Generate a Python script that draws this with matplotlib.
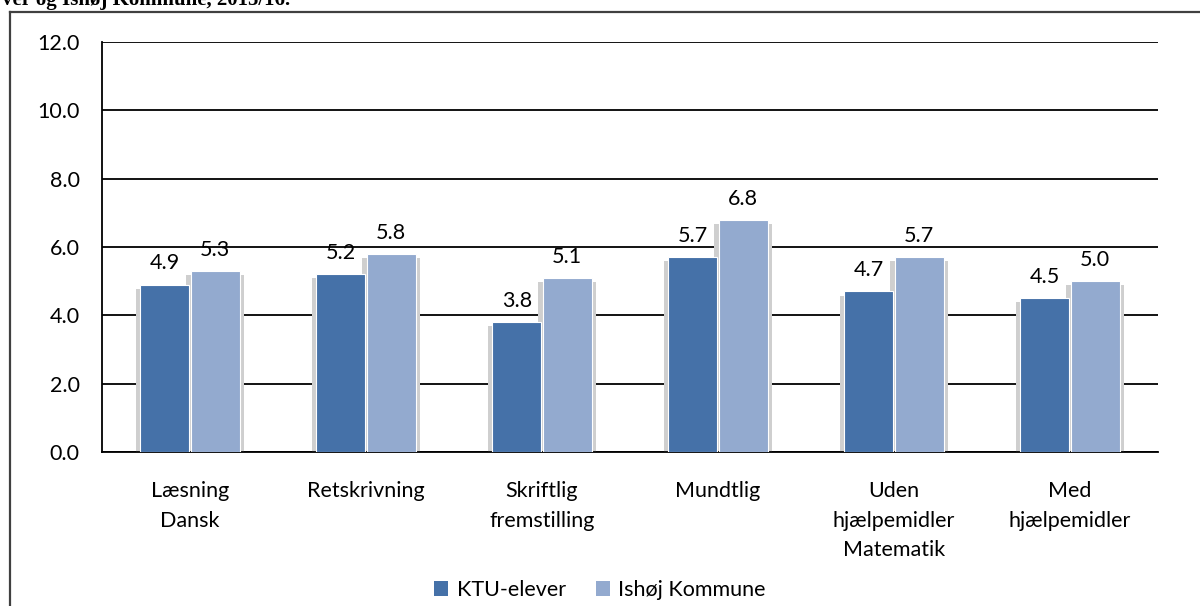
import matplotlib
matplotlib.use("Agg")
import matplotlib.pyplot as plt
import numpy as np
from matplotlib.lines import Line2D
from matplotlib.patches import Patch

categories = ["Læsning\nDansk", "Retskrivning", "Skriftlig\nfremstilling",
              "Mundtlig", "Uden\nhjælpemidler\nMatematik", "Med\nhjælpemidler"]
ktu = [4.9, 5.2, 3.8, 5.7, 4.7, 4.5]
ishoj = [5.3, 5.8, 5.1, 6.8, 5.7, 5.0]
series_names = ["KTU-elever", "Ishøj Kommune"]
yticks = [0, 2, 4, 6, 8, 10, 12]

c_dark = "#4571A8"
c_light = "#93AACF"
font = ["Lato", "DejaVu Sans"]
plt.rcParams["font.family"] = font
fs = 15.5

fig = plt.figure(figsize=(12, 6.06), dpi=100)
ax = fig.add_axes([102/1200, 1-452/606, (1158-102)/1200, (452-42)/606])

x = np.arange(len(categories))
w = 0.28
gap = 0.006
pos1 = x - w/2 - gap/2
pos2 = x + w/2 + gap/2

# shadows
for p, vals in ((pos1, ktu), (pos2, ishoj)):
    ax.bar(p, np.array(vals) - 0.12, width=w + 0.05, color="#cfcfcf", zorder=2, linewidth=0)
b1 = ax.bar(pos1, ktu, width=w, color=c_dark, edgecolor="white", linewidth=0.8, zorder=3)
b2 = ax.bar(pos2, ishoj, width=w, color=c_light, edgecolor="white", linewidth=0.8, zorder=3)

for bars, vals in ((b1, ktu), (b2, ishoj)):
    for b, v in zip(bars, vals):
        ax.annotate(f"{v:.1f}", (b.get_x() + b.get_width()/2, v), xytext=(0, 8),
                    textcoords="offset points", ha="center", va="bottom", fontsize=fs)

ax.set_ylim(0, 12)
ax.set_xlim(-0.5, len(categories) - 0.5)
ax.set_yticks(yticks)
ax.set_yticklabels([f"{t:.1f}" for t in yticks], fontsize=fs)
ax.yaxis.grid(True, color="black", linewidth=1.3, zorder=1)
ax.set_axisbelow(True)
ax.tick_params(axis="y", length=0, pad=16)
ax.tick_params(axis="x", length=0, pad=21)
ax.set_xticks(x)
ax.set_xticklabels(categories, fontsize=fs, linespacing=1.6, va="top")
for s in ("top", "right"):
    ax.spines[s].set_visible(False)
ax.spines["left"].set_linewidth(1.3)
ax.spines["bottom"].set_linewidth(1.3)

handles = [Patch(facecolor=c_dark, edgecolor="none"), Patch(facecolor=c_light, edgecolor="none")]
fig.legend(handles, series_names, loc="center", bbox_to_anchor=(0.5, 1-590/606), ncol=2,
           frameon=False, fontsize=fs, handlelength=0.65, handleheight=0.65,
           handletextpad=0.4, columnspacing=1.4)

# outer frame
fig.add_artist(Line2D([10/1200, 10/1200], [0, 1-12/606], color="#404040", linewidth=1.6,
                      transform=fig.transFigure))
fig.add_artist(Line2D([10/1200, 1], [1-12/606, 1-12/606], color="#404040", linewidth=1.6,
                      transform=fig.transFigure))

# clipped caption at top
fig.text(2/1200, 1-5/606, "ver og Ishøj Kommune, 2015/16.", fontsize=15, fontweight="bold",
         family=["Liberation Serif", "DejaVu Serif"], ha="left", va="baseline")

fig.savefig("out.png", dpi=100)
